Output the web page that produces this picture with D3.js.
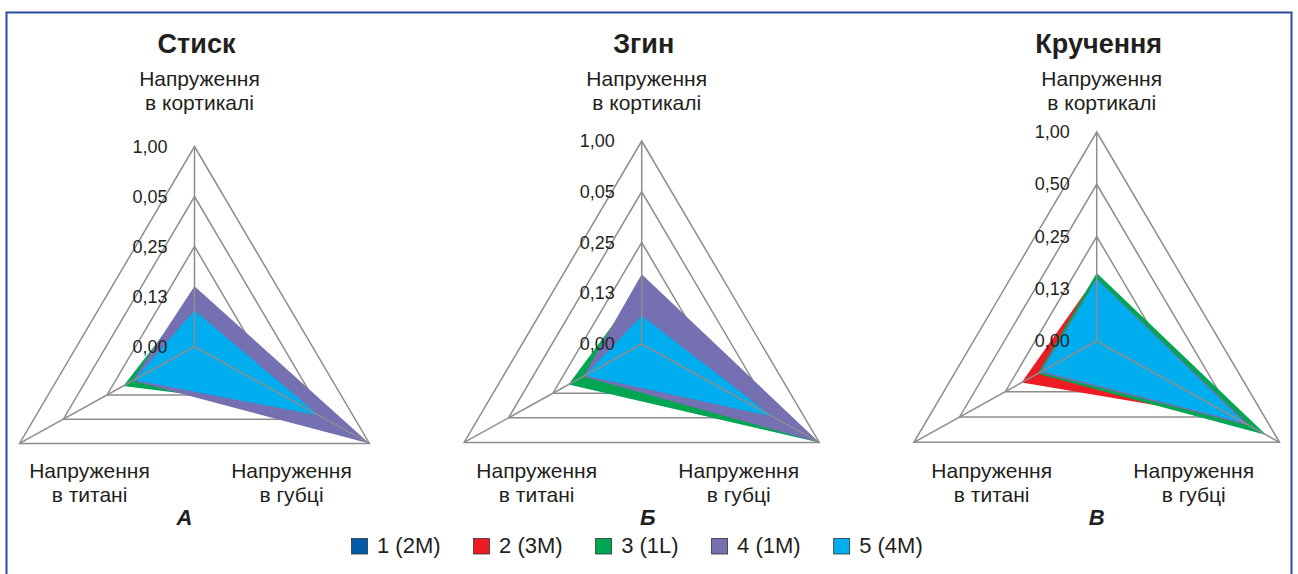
<!DOCTYPE html>
<html><head><meta charset="utf-8">
<script src="https://cdn.jsdelivr.net/npm/d3@7"></script>
<style>
body{margin:0;background:#fff}
svg{display:block}
text{font-family:"Liberation Sans",Arial,sans-serif;fill:#231f20}
</style>
</head><body><svg id="c" width="1298" height="574"></svg>
<script>
// ---------- data ----------
const chartTitles = ["Стиск", "Згин", "Кручення"];
const chartLetters = ["А", "Б", "В"];
const axisLabels = [["Напруження", "в кортикалі"], ["Напруження", "в губці"], ["Напруження", "в титані"]];
const seriesNames = ["1 (2M)", "2 (3M)", "3 (1L)", "4 (1M)", "5 (4M)"];
const seriesColors = ["#005bab", "#ed1c24", "#00a651", "#7470b1", "#00aeef"];
const tickValues = [0.0625, 0.125, 0.25, 0.5, 1];
const tickLabelsStisk = ["0,00", "0,13", "0,25", "0,05", "1,00"];
const tickLabelsZgyn = ["0,00", "0,13", "0,25", "0,05", "1,00"];
const tickLabelsKruchennia = ["0,00", "0,13", "0,25", "0,50", "1,00"];
// each row = one series: [кортикаль, губка, титан]
const stiskValues = [[0.095, 0.36, 0.14], [0.10, 0.37, 0.15], [0.129, 0.379, 0.193], [0.144, 1.0, 0.167], [0.103, 0.451, 0.163]];
const zgynValues = [[0.085, 0.42, 0.14], [0.088, 0.45, 0.145], [0.138, 1.0, 0.196], [0.162, 1.0, 0.156], [0.092, 0.483, 0.152]];
const kruchenniaValues = [[0.13, 0.5, 0.13], [0.148, 0.528, 0.195], [0.154, 0.818, 0.153], [0.143, 0.637, 0.148], [0.142, 0.590, 0.143]];

// ---------- layout ----------
const charts = [
  {values: stiskValues, ticks: tickLabelsStisk, cx: 194.5, cy: 346.5, R: 200, letterDx: -10},
  {values: zgynValues, ticks: tickLabelsZgyn, cx: 641.7, cy: 344, R: 203, letterDx: 6},
  {values: kruchenniaValues, ticks: tickLabelsKruchennia, cx: 1096.7, cy: 341, R: 209, letterDx: 0}
];
const angles = [0, 119, 241].map(d => d * Math.PI / 180);
const gridColor = "#8d8d8d";

const svg = d3.select("#c");
svg.append("rect").attr("x", 6.5).attr("y", 12.5).attr("width", 1285).attr("height", 600)
  .attr("fill", "#fff").attr("stroke", "#2b4a9d").attr("stroke-width", 2);

charts.forEach((c, ci) => {
  const g = svg.append("g");
  const r = d3.scaleLog().base(2).domain([tickValues[0], 1]).range([0, c.R]);
  const pt = (i, v) => [c.cx + r(v) * Math.sin(angles[i]), c.cy - r(v) * Math.cos(angles[i])];
  const line = d3.line();

  // ring grid (beneath fills)
  tickValues.slice(1).forEach(t => {
    g.append("path").attr("d", line([0, 1, 2].map(i => pt(i, t))) + "Z")
      .attr("fill", "none").attr("stroke", gridColor).attr("stroke-width", 1.5);
  });

  // series fills
  c.values.forEach((vals, si) => {
    g.append("path").attr("d", line(vals.map((v, i) => pt(i, v))) + "Z")
      .attr("fill", seriesColors[si]).attr("stroke", "none");
  });

  // spokes
  [0, 1, 2].forEach(i => {
    g.append("path").attr("d", line([pt(i, tickValues[0]), pt(i, 1)]))
      .attr("stroke", gridColor).attr("stroke-width", 1.5).attr("fill", "none");
  });

  // tick labels
  tickValues.forEach((t, k) => {
    g.append("text").attr("x", c.cx - 27).attr("y", c.cy - r(t))
      .attr("text-anchor", "end").attr("dominant-baseline", "central")
      .attr("font-size", 18).text(c.ticks[k]);
  });

  // title
  g.append("text").attr("x", c.cx + 2).attr("y", 53).attr("text-anchor", "middle")
    .attr("font-size", 27).attr("font-weight", "bold").text(chartTitles[ci]);

  // axis labels
  const labelPos = [[c.cx + 5, 86], [c.cx + 97, 478], [c.cx - 105, 478]];
  axisLabels.forEach((lines, i) => {
    lines.forEach((s, j) => {
      g.append("text").attr("x", labelPos[i][0]).attr("y", labelPos[i][1] + j * 24)
        .attr("text-anchor", "middle").attr("font-size", 21).text(s);
    });
  });

  // letter
  g.append("text").attr("x", c.cx + c.letterDx).attr("y", 525).attr("text-anchor", "middle")
    .attr("font-size", 22).attr("font-weight", "bold").attr("font-style", "italic").text(chartLetters[ci]);
});

// legend
const lg = svg.append("g");
let lx = 351.5;
seriesNames.forEach((s, i) => {
  lg.append("rect").attr("x", lx).attr("y", 538.5).attr("width", 16).attr("height", 15.5)
    .attr("fill", seriesColors[i]).attr("stroke", "#333").attr("stroke-width", 0.8);
  const t = lg.append("text").attr("x", lx + 25.5).attr("y", 553).attr("font-size", 22).text(s);
  lx += 25.5 + t.node().getComputedTextLength() + 33;
});
</script>
</body></html>
